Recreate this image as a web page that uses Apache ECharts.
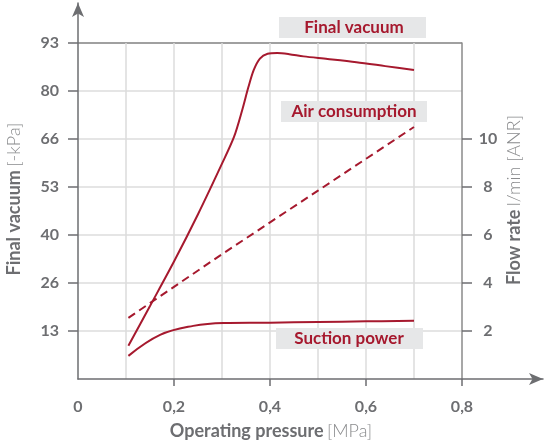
<!DOCTYPE html>
<html>
<head>
<meta charset="utf-8">
<script src="https://cdn.jsdelivr.net/npm/echarts@6/dist/echarts.min.js"></script>
<style>
  html, body { margin: 0; padding: 0; background: #fff; }
  #chart { width: 544px; height: 445px; }
</style>
</head>
<body>
<div id="chart"></div>
<script>
// Operating pressure [MPa] vs. final vacuum [-kPa] and flow rate [l/min ANR]
const finalVacuum = [
  [0.105, 9.2], [0.15, 20.2], [0.2, 32.5], [0.25, 45.6], [0.3, 59.6],
  [0.325, 67], [0.342, 74.4], [0.355, 80.8], [0.366, 85.5], [0.379, 88.7],
  [0.395, 90.0], [0.415, 90.2], [0.44, 89.9], [0.47, 89.3], [0.52, 88.6],
  [0.58, 87.7], [0.64, 86.6], [0.7, 85.5]
];
const suctionPower = [
  [0.105, 6.4], [0.171, 12.2], [0.24, 14.7], [0.303, 15.5],
  [0.4, 15.6], [0.5, 15.8], [0.6, 15.95], [0.7, 16.1]
];
const airConsumption = [
  [0.105, 2.55], [0.3, 5.2], [0.5, 7.85], [0.7, 10.5]
];

// left axis: 0..93 in seven equal steps, printed labels
const vacuumMax = 93;
const vacuumSteps = 7;
const vacuumLabels = ['13', '26', '40', '53', '66', '80', '93'];
const vacuumTicks = vacuumLabels.map((_, i) => (i + 1) * vacuumMax / vacuumSteps);
const flowTicks = [2, 4, 6, 8, 10];
const pressureTicks = [0.2, 0.4, 0.6, 0.8];

const RED = '#a6192e';
const AXIS = '#6d6e71';
const GRID = '#dcdcdc';
const TEXT = '#6d6e71';
const FONT = 'Lato';

const chart = echarts.init(document.getElementById('chart'));

const labelStyle = { color: TEXT, fontFamily: FONT, fontWeight: 'bold', fontSize: 16 };

chart.setOption({
  animation: false,
  backgroundColor: '#fff',
  grid: [
    { left: 78, right: 82, top: 43, bottom: 66 },
    { left: 78, right: 1, top: 3, bottom: 66 }
  ],
  xAxis: [
    {
      type: 'value', gridIndex: 0, min: 0, max: 0.8, interval: 0.2,
      axisLine: { show: false },
      axisTick: { show: true, length: 7, customValues: pressureTicks, lineStyle: { color: AXIS, width: 1.5 } },
      axisLabel: Object.assign({
        margin: 20,
        formatter: v => v === 0 ? '0' : v.toFixed(1).replace('.', ',')
      }, labelStyle),
      minorTick: { show: false, splitNumber: 2 },
      splitLine: { show: true, lineStyle: { color: [GRID, GRID, GRID, 'transparent'], width: 1.5 } },
      minorSplitLine: { show: true, lineStyle: { color: GRID, width: 1.5 } }
    },
    {
      type: 'value', gridIndex: 1, min: 0, max: 1,
      axisLine: { show: true, symbol: ['none', 'arrow'], symbolSize: [9, 14], lineStyle: { color: AXIS, width: 1.5 } },
      axisTick: { show: false }, axisLabel: { show: false }, splitLine: { show: false }
    }
  ],
  yAxis: [
    {
      type: 'value', gridIndex: 0, min: 0, max: vacuumMax, interval: vacuumMax / vacuumSteps,
      axisLine: { show: false },
      axisTick: { show: true, length: 10, customValues: vacuumTicks, lineStyle: { color: AXIS, width: 1.5 } },
      axisLabel: Object.assign({
        margin: 19,
        formatter: v => {
          const i = Math.round(v / (vacuumMax / vacuumSteps));
          return i === 0 ? '' : vacuumLabels[i - 1];
        }
      }, labelStyle),
      splitLine: {
        show: true,
        lineStyle: { color: [GRID, GRID, GRID, GRID, GRID, GRID, '#808080'], width: 1.5 }
      }
    },
    {
      type: 'value', gridIndex: 0, position: 'right', min: 0, max: 14, interval: 2,
      axisLine: { show: true, lineStyle: { color: '#8a8a8a', width: 1.5 } },
      axisTick: { show: true, length: 10, customValues: flowTicks, lineStyle: { color: AXIS, width: 1.5 } },
      axisLabel: Object.assign({
        margin: 26, align: 'center', customValues: flowTicks,
        formatter: v => String(v)
      }, labelStyle),
      splitLine: { show: false }
    },
    {
      type: 'value', gridIndex: 1, min: 0, max: 1,
      axisLine: { show: true, symbol: ['none', 'arrow'], symbolSize: [9, 14], lineStyle: { color: AXIS, width: 1.5 } },
      axisTick: { show: false }, axisLabel: { show: false }, splitLine: { show: false }
    }
  ],
  series: [
    {
      name: 'Final vacuum', type: 'line', xAxisIndex: 0, yAxisIndex: 0,
      data: finalVacuum, smooth: 0.3, showSymbol: false,
      lineStyle: { color: RED, width: 2 }, z: 5
    },
    {
      name: 'Suction power', type: 'line', xAxisIndex: 0, yAxisIndex: 0,
      data: suctionPower, smooth: 0.4, showSymbol: false,
      lineStyle: { color: RED, width: 2 }, z: 5
    },
    {
      name: 'Air consumption', type: 'line', xAxisIndex: 0, yAxisIndex: 1,
      data: airConsumption, showSymbol: false,
      lineStyle: { color: RED, width: 2, type: [8, 5] }, z: 5
    }
  ],
  graphic: [
    // series name tags
    { type: 'rect', shape: { x: 279, y: 17, width: 147, height: 21 }, style: { fill: '#e6e7e8' }, z: 10 },
    { type: 'text', x: 354, y: 28, z: 11,
      style: { text: 'Final vacuum', fill: RED, font: 'bold 17px ' + FONT, textAlign: 'center', textVerticalAlign: 'middle' } },
    { type: 'rect', shape: { x: 281, y: 101, width: 146, height: 21 }, style: { fill: '#e6e7e8' }, z: 10 },
    { type: 'text', x: 354, y: 112, z: 11,
      style: { text: 'Air consumption', fill: RED, font: 'bold 17px ' + FONT, textAlign: 'center', textVerticalAlign: 'middle' } },
    { type: 'rect', shape: { x: 276, y: 328, width: 147, height: 21 }, style: { fill: '#e6e7e8' }, z: 10 },
    { type: 'text', x: 349, y: 339, z: 11,
      style: { text: 'Suction power', fill: RED, font: 'bold 17px ' + FONT, textAlign: 'center', textVerticalAlign: 'middle' } },
    // axis titles
    { type: 'text', x: 14, y: 199, rotation: Math.PI / 2, z: 11,
      style: {
        text: '{b|Final vacuum} {l|[-kPa]}', textAlign: 'center', textVerticalAlign: 'middle',
        rich: {
          b: { fill: TEXT, fontFamily: FONT, fontWeight: 'bold', fontSize: 18 },
          l: { fill: '#8a8b8d', fontFamily: FONT, fontWeight: 300, fontSize: 18 }
        }
      } },
    { type: 'text', x: 514, y: 200, rotation: Math.PI / 2, z: 11,
      style: {
        text: '{b|Flow rate} {l|l/min [ANR]}', textAlign: 'center', textVerticalAlign: 'middle',
        rich: {
          b: { fill: TEXT, fontFamily: FONT, fontWeight: 'bold', fontSize: 18 },
          l: { fill: '#8a8b8d', fontFamily: FONT, fontWeight: 300, fontSize: 18 }
        }
      } },
    { type: 'text', x: 271, y: 431, z: 11,
      style: {
        text: '{b|Operating pressure} {l|[MPa]}', textAlign: 'center', textVerticalAlign: 'middle',
        rich: {
          b: { fill: TEXT, fontFamily: FONT, fontWeight: 'bold', fontSize: 18 },
          l: { fill: '#8a8b8d', fontFamily: FONT, fontWeight: 300, fontSize: 18 }
        }
      } }
  ]
});
</script>
</body>
</html>
